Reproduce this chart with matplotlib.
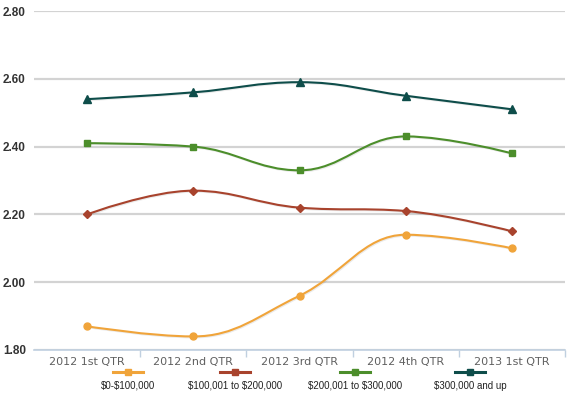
import matplotlib
matplotlib.use("Agg")
import matplotlib.pyplot as plt
from matplotlib.path import Path
from matplotlib.patches import PathPatch
from matplotlib.lines import Line2D
import matplotlib.patheffects as pe
import numpy as np

categories = ["2012 1st QTR", "2012 2nd QTR", "2012 3rd QTR", "2012 4th QTR", "2013 1st QTR"]
series_names = ["$0-$100,000", "$100,001 to $200,000", "$200,001 to $300,000", "$300,000 and up"]
s0 = [1.87, 1.84, 1.96, 2.14, 2.10]
s1 = [2.20, 2.27, 2.22, 2.21, 2.15]
s2 = [2.41, 2.40, 2.33, 2.43, 2.38]
s3 = [2.54, 2.56, 2.59, 2.55, 2.51]
yticks = [1.80, 2.00, 2.20, 2.40, 2.60, 2.80]

colors = ["#F0A43A", "#A8432D", "#4C8E2B", "#0E4D4A"]
markers = ["o", "D", "s", "^"]
msizes = [5, 4.2, 4.2, 5.5]


def spline_path(xs, ys, smoothing=1.5):
    denom = smoothing + 1
    n = len(xs)
    lc = [(xs[i], ys[i]) for i in range(n)]
    rc = [(xs[i], ys[i]) for i in range(n)]
    for i in range(1, n - 1):
        px, py = xs[i], ys[i]
        lx, ly = xs[i - 1], ys[i - 1]
        nx, ny = xs[i + 1], ys[i + 1]
        lcx = (smoothing * px + lx) / denom
        lcy = (smoothing * py + ly) / denom
        rcx = (smoothing * px + nx) / denom
        rcy = (smoothing * py + ny) / denom
        if rcx != lcx:
            corr = (rcy - lcy) * (rcx - px) / (rcx - lcx) + py - rcy
            lcy += corr
            rcy += corr
            if lcy > ly and lcy > py:
                lcy = max(ly, py); rcy = 2 * py - lcy
            elif lcy < ly and lcy < py:
                lcy = min(ly, py); rcy = 2 * py - lcy
            if rcy > ny and rcy > py:
                rcy = max(ny, py); lcy = 2 * py - rcy
            elif rcy < ny and rcy < py:
                rcy = min(ny, py); lcy = 2 * py - rcy
        lc[i] = (lcx, lcy)
        rc[i] = (rcx, rcy)
    verts = [(xs[0], ys[0])]
    codes = [Path.MOVETO]
    for i in range(1, n):
        verts += [rc[i - 1], lc[i], (xs[i], ys[i])]
        codes += [Path.CURVE4] * 3
    return Path(verts, codes)


fig = plt.figure(figsize=(5.71, 3.93), dpi=100)
ax = fig.add_axes([34 / 571, 43 / 393, (565 - 34) / 571, (350 - 11) / 393])

x = np.arange(len(categories))
for vals, c, m, ms in zip([s0, s1, s2, s3], colors, markers, msizes):
    p = spline_path(list(x), list(vals))
    patch = PathPatch(p, facecolor="none", edgecolor=c, lw=1.5, zorder=3,
                      path_effects=[pe.SimpleLineShadow(offset=(0.7, -0.7), alpha=0.08, shadow_color="black"), pe.Normal()])
    ax.add_patch(patch)
    ax.plot(x, vals, linestyle="none", marker=m, markersize=ms, color=c, zorder=4)

ax.set_xlim(-0.5, len(categories) - 0.5)
ax.set_ylim(1.80, 2.80)
ax.set_yticks(yticks)
ax.set_yticklabels([f"{v:.2f}" for v in yticks])
ax.grid(axis="y", color="#D3D3D3", lw=1.6)
ax.set_axisbelow(True)
for s in ["top", "right", "left"]:
    ax.spines[s].set_visible(False)
ax.spines["bottom"].set_color("#C0D0E0")
ax.spines["bottom"].set_linewidth(1.2)
ax.tick_params(axis="y", length=0, labelsize=8.5, labelcolor="#333333", pad=31 * 0.72)
for lab in ax.get_yticklabels():
    lab.set_fontweight("bold")
    lab.set_fontfamily("Liberation Sans")
    lab.set_horizontalalignment("left")

ax.set_xticks(x)
ax.set_xticklabels(categories, fontsize=8, color="#606060")
ax.tick_params(axis="x", length=0, pad=5)
ax.set_xticks(np.arange(0.5, len(categories) - 0.4, 1.0), minor=True)
ax.tick_params(axis="x", which="minor", length=5, color="#C0D0E0", width=1)

# legend
leg_x = [128, 235, 355, 470]
for name, c, m, lx in zip(series_names, colors, markers, leg_x):
    fx = lx / 571
    fy = 1 - 372 / 393
    ln = Line2D([fx - 15 / 571, fx + 15 / 571], [fy, fy], transform=fig.transFigure,
                color=c, lw=2.2)
    fig.add_artist(ln)
    mk = Line2D([fx], [fy], transform=fig.transFigure, color=c, marker="s", markersize=4, linestyle="none")
    fig.add_artist(mk)
    fig.text(fx, 1 - 386 / 393, name, ha="center", va="center", fontsize=7, color="#222222",
             family="Liberation Sans", parse_math=False)

fig.savefig("out.png", dpi=100)
